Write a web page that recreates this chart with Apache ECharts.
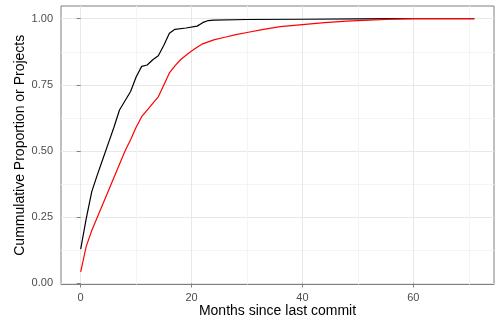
<!DOCTYPE html>
<html>
<head>
<meta charset="utf-8">
<script src="https://cdn.jsdelivr.net/npm/echarts@6/dist/echarts.min.js"></script>
<style>
  html, body { margin: 0; padding: 0; background: #fff; }
  #chart { width: 496px; height: 323px; }
</style>
</head>
<body>
<div id="chart"></div>
<script>
// values
const blackMonths = [0, 1, 2, 3, 4, 5, 6, 7, 8, 9, 10, 11, 12, 13, 14, 15, 16, 17, 19, 21, 22, 23, 24, 30, 40, 50, 60, 71];
const blackValues = [0.13, 0.245, 0.347, 0.41, 0.47, 0.53, 0.59, 0.655, 0.69, 0.725, 0.78, 0.82, 0.825, 0.845, 0.86, 0.9, 0.945, 0.96, 0.965, 0.972, 0.985, 0.993, 0.995, 0.997, 0.998, 0.999, 1.0, 1.0];

const redMonths = [0, 1, 2, 3, 4, 5, 6, 7, 8, 9, 10, 11, 12, 13, 14, 15, 16, 17, 18, 19, 20, 21, 22, 24, 26, 28, 30, 33, 36, 40, 44, 48, 52, 56, 60, 71];
const redValues = [0.044, 0.14, 0.2, 0.25, 0.3, 0.35, 0.4, 0.45, 0.5, 0.543, 0.59, 0.63, 0.655, 0.68, 0.705, 0.75, 0.795, 0.822, 0.845, 0.862, 0.878, 0.892, 0.905, 0.92, 0.93, 0.94, 0.948, 0.96, 0.97, 0.978, 0.985, 0.991, 0.995, 0.998, 1.0, 1.0];

const xTicks = [0, 20, 40, 60];
const xMinor = [10, 30, 50, 70];
const yTicks = [0, 0.25, 0.5, 0.75, 1];
const yMinor = [0.125, 0.375, 0.625, 0.875];

const xRange = [-3.55, 74.55];
const yRange = [-0.004, 1.048];

const chart = echarts.init(document.getElementById('chart'));

const font = 'Liberation Sans, Arial, sans-serif';

// hidden axis used only to draw the lighter minor grid lines
function minorAxis(base, values) {
    return Object.assign({}, base, {
        axisLine: { show: false },
        axisTick: { show: false, customValues: values },
        axisLabel: { show: false, customValues: values },
        splitLine: { show: true, lineStyle: { color: '#f4f4f4', width: 1 } },
        name: ''
    });
}

const xBase = {
    type: 'value',
    position: 'bottom',
    min: xRange[0],
    max: xRange[1],
    name: 'Months since last commit',
    nameLocation: 'middle',
    nameGap: 20,
    nameMoveOverlap: false,
    nameTextStyle: { fontFamily: font, fontSize: 14, color: '#000' },
    axisLine: { show: false },
    axisTick: { show: true, length: 4, inside: false, customValues: xTicks, lineStyle: { color: '#7f7f7f' } },
    axisLabel: { customValues: xTicks, margin: 8, fontFamily: font, fontSize: 11, color: '#4d4d4d' },
    splitLine: { show: true, lineStyle: { color: '#e8e8e8', width: 1 } }
};

const yBase = {
    type: 'value',
    position: 'left',
    min: yRange[0],
    max: yRange[1],
    name: 'Cummulative Proportion or Projects',
    nameLocation: 'middle',
    nameGap: 34,
    nameMoveOverlap: false,
    nameTextStyle: { fontFamily: font, fontSize: 14, color: '#000' },
    axisLine: { show: false },
    axisTick: { show: true, length: 4, inside: false, customValues: yTicks, lineStyle: { color: '#7f7f7f' } },
    axisLabel: {
        customValues: yTicks, margin: 8, fontFamily: font, fontSize: 11, color: '#4d4d4d',
        formatter: (v) => v.toFixed(2)
    },
    splitLine: { show: true, lineStyle: { color: '#e8e8e8', width: 1 } }
};

chart.setOption({
    animation: false,
    backgroundColor: '#fff',
    grid: {
        left: 61, top: 6, right: 2, bottom: 38.5,
        containLabel: false, outerBoundsMode: 'none',
        show: true, borderColor: '#7f7f7f', borderWidth: 1, backgroundColor: 'transparent'
    },
    xAxis: [minorAxis(xBase, xMinor), xBase],
    yAxis: [minorAxis(yBase, yMinor), yBase],
    series: [
        {
            name: 'black',
            type: 'line',
            xAxisIndex: 1,
            yAxisIndex: 1,
            showSymbol: false,
            data: blackMonths.map((m, i) => [m, blackValues[i]]),
            lineStyle: { color: '#000', width: 1.2 },
            itemStyle: { color: '#000' }
        },
        {
            name: 'red',
            type: 'line',
            xAxisIndex: 1,
            yAxisIndex: 1,
            showSymbol: false,
            data: redMonths.map((m, i) => [m, redValues[i]]),
            lineStyle: { color: '#ff0000', width: 1.2 },
            itemStyle: { color: '#ff0000' }
        }
    ]
});
</script>
</body>
</html>
